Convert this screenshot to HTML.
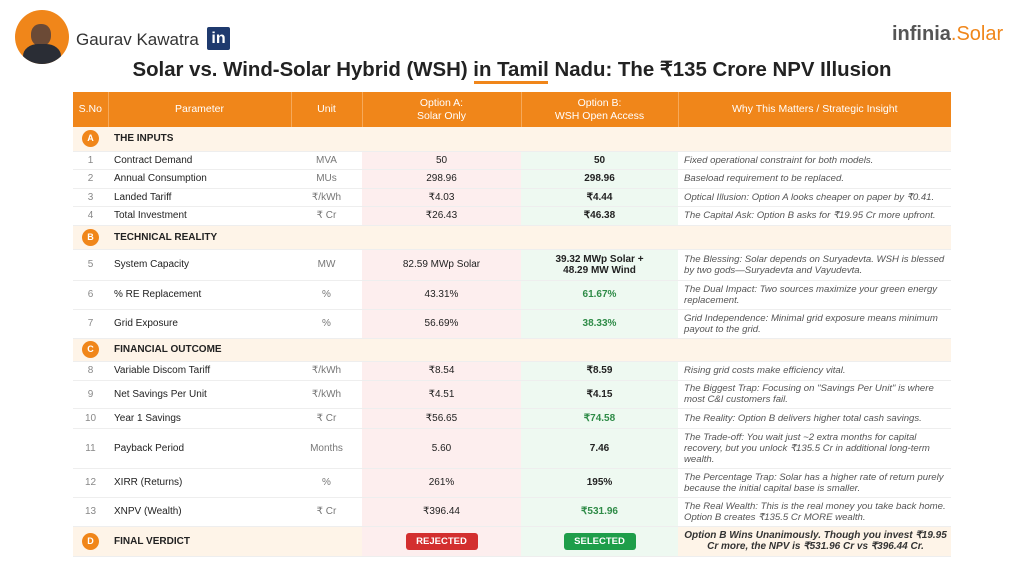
<!DOCTYPE html>
<html><head><meta charset="utf-8"><style>
body{margin:0;width:1024px;height:569px;background:#fff;font-family:"Liberation Sans",sans-serif;position:relative;overflow:hidden;color:#222}
.abs{position:absolute}
table{position:absolute;left:73px;top:92px;width:878px;border-collapse:collapse;table-layout:fixed;font-size:10px}
td{padding:0 6px;border-bottom:1px solid #eee;vertical-align:middle}
th{background:#F0861A;color:#fff;font-weight:normal;font-size:10.5px;line-height:13px;border-left:1px solid #f6a95a}
th:first-child{border-left:none}
.sec td{background:#FEF4E8;font-weight:bold;font-size:10px}
.n{text-align:center;color:#888}
.u{text-align:center;color:#777}
.a{text-align:center;background:#FDEEEE}
.b{text-align:center;background:#EEF9F1;font-weight:bold}
.g{color:#2e8b47}
.i{font-style:italic;color:#555;font-size:9.6px;line-height:11px;padding-right:4px}
.c{display:inline-block;width:17px;height:17px;border-radius:50%;background:#F0861A;color:#fff;font-size:9px;line-height:17px;text-align:center;font-weight:bold}
.tag{display:inline-block;color:#fff;font-weight:bold;font-size:9.5px;padding:3px 0;width:72px;border-radius:3px}
</style></head><body>
<div class="abs" style="left:15px;top:10px;width:54px;height:54px;border-radius:50%;background:#F0861A;overflow:hidden"><div style="position:absolute;left:16px;top:14px;width:20px;height:22px;border-radius:45%;background:#6b4a36"></div><div style="position:absolute;left:8px;top:34px;width:38px;height:30px;border-radius:40% 40% 0 0;background:#2a2d35"></div></div>
<div class="abs" style="left:76px;top:30px;font-size:17px;color:#333">Gaurav Kawatra</div>
<div class="abs" style="left:207px;top:27px;width:23px;height:23px;background:#1f3a6e;border-radius:2px;color:#fff;font-weight:bold;font-size:16px;line-height:23px;text-align:center">in</div>
<div class="abs" style="left:892px;top:23px;font-size:20px;color:#555;font-weight:bold">infinia<span style="color:#F0861A;font-weight:normal">.Solar</span></div>
<div class="abs" style="left:0;width:1024px;top:57px;text-align:center;font-size:20.4px;font-weight:bold;color:#222">Solar vs. Wind-Solar Hybrid (WSH) in Tamil Nadu: The ₹135 Crore NPV Illusion</div>
<div class="abs" style="left:474px;top:81px;width:74px;height:3px;background:#F0861A"></div>
<table>
<colgroup><col style="width:35px"><col style="width:183px"><col style="width:71px"><col style="width:159px"><col style="width:157px"><col style="width:273px"></colgroup>
<tr style="height:35px"><th>S.No</th><th>Parameter</th><th>Unit</th><th>Option A:<br>Solar Only</th><th>Option B:<br>WSH Open Access</th><th>Why This Matters / Strategic Insight</th></tr>
<tr class="sec" style="height:24px"><td class="n"><span class="c">A</span></td><td colspan="5">THE INPUTS</td></tr>
<tr style="height:18px"><td class="n">1</td><td>Contract Demand</td><td class="u">MVA</td><td class="a">50</td><td class="b">50</td><td class="i">Fixed operational constraint for both models.</td></tr>
<tr style="height:19px"><td class="n">2</td><td>Annual Consumption</td><td class="u">MUs</td><td class="a">298.96</td><td class="b">298.96</td><td class="i">Baseload requirement to be replaced.</td></tr>
<tr style="height:18px"><td class="n">3</td><td>Landed Tariff</td><td class="u">₹/kWh</td><td class="a">₹4.03</td><td class="b">₹4.44</td><td class="i">Optical Illusion: Option A looks cheaper on paper by ₹0.41.</td></tr>
<tr style="height:19px"><td class="n">4</td><td>Total Investment</td><td class="u">₹ Cr</td><td class="a">₹26.43</td><td class="b">₹46.38</td><td class="i">The Capital Ask: Option B asks for ₹19.95 Cr more upfront.</td></tr>
<tr class="sec" style="height:24px"><td class="n"><span class="c">B</span></td><td colspan="5">TECHNICAL REALITY</td></tr>
<tr style="height:31px"><td class="n">5</td><td>System Capacity</td><td class="u">MW</td><td class="a">82.59 MWp Solar</td><td class="b">39.32 MWp Solar +<br>48.29 MW Wind</td><td class="i">The Blessing: Solar depends on Suryadevta. WSH is blessed by two gods—Suryadevta and Vayudevta.</td></tr>
<tr style="height:29px"><td class="n">6</td><td>% RE Replacement</td><td class="u">%</td><td class="a">43.31%</td><td class="b g">61.67%</td><td class="i">The Dual Impact: Two sources maximize your green energy replacement.</td></tr>
<tr style="height:29px"><td class="n">7</td><td>Grid Exposure</td><td class="u">%</td><td class="a">56.69%</td><td class="b g">38.33%</td><td class="i">Grid Independence: Minimal grid exposure means minimum payout to the grid.</td></tr>
<tr class="sec" style="height:23px"><td class="n"><span class="c">C</span></td><td colspan="5">FINANCIAL OUTCOME</td></tr>
<tr style="height:19px"><td class="n">8</td><td>Variable Discom Tariff</td><td class="u">₹/kWh</td><td class="a">₹8.54</td><td class="b">₹8.59</td><td class="i">Rising grid costs make efficiency vital.</td></tr>
<tr style="height:28px"><td class="n">9</td><td>Net Savings Per Unit</td><td class="u">₹/kWh</td><td class="a">₹4.51</td><td class="b">₹4.15</td><td class="i">The Biggest Trap: Focusing on "Savings Per Unit" is where most C&amp;I customers fail.</td></tr>
<tr style="height:20px"><td class="n">10</td><td>Year 1 Savings</td><td class="u">₹ Cr</td><td class="a">₹56.65</td><td class="b g">₹74.58</td><td class="i">The Reality: Option B delivers higher total cash savings.</td></tr>
<tr style="height:40px"><td class="n">11</td><td>Payback Period</td><td class="u">Months</td><td class="a">5.60</td><td class="b">7.46</td><td class="i">The Trade-off: You wait just ~2 extra months for capital recovery, but you unlock ₹135.5 Cr in additional long-term wealth.</td></tr>
<tr style="height:29px"><td class="n">12</td><td>XIRR (Returns)</td><td class="u">%</td><td class="a">261%</td><td class="b">195%</td><td class="i">The Percentage Trap: Solar has a higher rate of return purely because the initial capital base is smaller.</td></tr>
<tr style="height:29px"><td class="n">13</td><td>XNPV (Wealth)</td><td class="u">₹ Cr</td><td class="a">₹396.44</td><td class="b g">₹531.96</td><td class="i">The Real Wealth: This is the real money you take back home. Option B creates ₹135.5 Cr MORE wealth.</td></tr>
<tr class="sec" style="height:30px"><td class="n"><span class="c">D</span></td><td colspan="2">FINAL VERDICT</td><td class="a" style="background:#FDEEEE"><span class="tag" style="background:#d32f2f">REJECTED</span></td><td class="b" style="background:#EEF9F1"><span class="tag" style="background:#1e9e4a">SELECTED</span></td><td class="i" style="text-align:center;font-weight:bold;color:#333">Option B Wins Unanimously. Though you invest ₹19.95 Cr more, the NPV is ₹531.96 Cr vs ₹396.44 Cr.</td></tr>
</table>
</body></html>
